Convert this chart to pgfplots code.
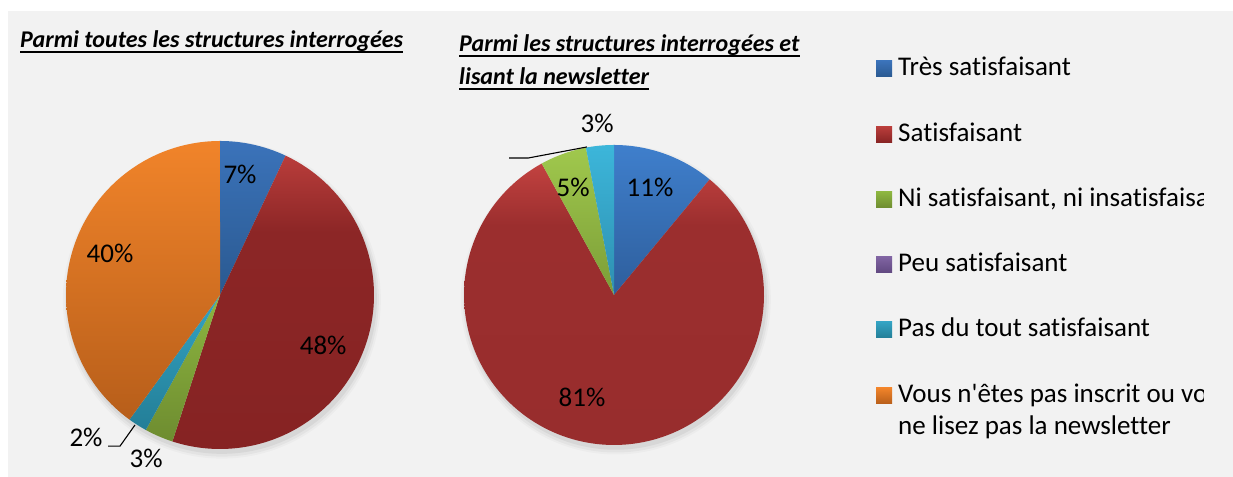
\documentclass[border=0pt]{standalone}
\usepackage{fontspec}
\setmainfont{Carlito}[Ligatures={NoCommon}]
\usepackage{pgfplots}
\pgfplotsset{compat=1.18}

% ---------------- data (percent) ----------------
% left pie: all structures
\def\LTS{7}\def\LS{48}\def\LNi{3}\def\LPeu{0}\def\LPas{2}\def\LVous{40}
% right pie: structures reading the newsletter
\def\RTS{11}\def\RS{81}\def\RNi{5}\def\RPeu{0}\def\RPas{3}

\pgfmathsetmacro\LcA{3.6*\LTS}
\pgfmathsetmacro\LcB{\LcA+3.6*\LS}
\pgfmathsetmacro\LcC{\LcB+3.6*\LNi}
\pgfmathsetmacro\LcD{\LcC+3.6*\LPeu}
\pgfmathsetmacro\LcE{\LcD+3.6*\LPas}
\pgfmathsetmacro\LcF{\LcE+3.6*\LVous}
\pgfmathsetmacro\RcA{3.6*\RTS}
\pgfmathsetmacro\RcB{\RcA+3.6*\RS}
\pgfmathsetmacro\RcC{\RcB+3.6*\RNi}
\pgfmathsetmacro\RcD{\RcC+3.6*\RPeu}
\pgfmathsetmacro\RcE{\RcD+3.6*\RPas}

% ---------------- colours ----------------
\definecolor{panel}{HTML}{F2F2F2}
\definecolor{lbt}{HTML}{3B73BA}\definecolor{lbb}{HTML}{2A5990}
\definecolor{lrt}{HTML}{B93D3B}\definecolor{lrm}{HTML}{8C2626}\definecolor{lrb}{HTML}{862323}
\definecolor{lgt}{HTML}{8DB640}\definecolor{lgb}{HTML}{6E8C30}
\definecolor{lct}{HTML}{34A3C3}\definecolor{lcb}{HTML}{237E97}
\definecolor{lot}{HTML}{F1842A}\definecolor{lob}{HTML}{B75E1A}
\definecolor{rbt}{HTML}{3F7FCC}\definecolor{rbb}{HTML}{2E5E9C}
\definecolor{rrt}{HTML}{C24240}\definecolor{rrm}{HTML}{9B2E2E}\definecolor{rrb}{HTML}{982D2D}
\definecolor{rgt}{HTML}{A0C84D}\definecolor{rgb}{HTML}{7B9D37}
\definecolor{rct}{HTML}{3CB6DA}\definecolor{rcb}{HTML}{2E8FB0}

\pgfdeclareverticalshading{sLb}{100bp}{color(0bp)=(lbb); color(25bp)=(lbb); color(75bp)=(lbt); color(100bp)=(lbt)}
\pgfdeclareverticalshading{sLr}{100bp}{color(0bp)=(lrb); color(25bp)=(lrb); color(62bp)=(lrm); color(75bp)=(lrt); color(100bp)=(lrt)}
\pgfdeclareverticalshading{sLg}{100bp}{color(0bp)=(lgb); color(25bp)=(lgb); color(75bp)=(lgt); color(100bp)=(lgt)}
\pgfdeclareverticalshading{sLc}{100bp}{color(0bp)=(lcb); color(25bp)=(lcb); color(75bp)=(lct); color(100bp)=(lct)}
\pgfdeclareverticalshading{sLo}{100bp}{color(0bp)=(lob); color(25bp)=(lob); color(75bp)=(lot); color(100bp)=(lot)}
\pgfdeclareverticalshading{sRb}{100bp}{color(0bp)=(rbb); color(25bp)=(rbb); color(75bp)=(rbt); color(100bp)=(rbt)}
\pgfdeclareverticalshading{sRr}{100bp}{color(0bp)=(rrb); color(25bp)=(rrb); color(64bp)=(rrm); color(75bp)=(rrt); color(100bp)=(rrt)}
\pgfdeclareverticalshading{sRg}{100bp}{color(0bp)=(rgb); color(25bp)=(rgb); color(75bp)=(rgt); color(100bp)=(rgt)}
\pgfdeclareverticalshading{sRc}{100bp}{color(0bp)=(rcb); color(25bp)=(rcb); color(75bp)=(rct); color(100bp)=(rct)}

\newcommand\lbl{\fontsize{27bp}{31bp}\selectfont}
\newcommand\ttl{\fontsize{24bp}{28bp}\selectfont\bfseries\itshape}

\begin{document}
\begin{tikzpicture}[x=1bp,y=1bp]
\fill[white] (0,0) rectangle (1233,477);
\fill[panel] (8,0) rectangle (1233,466);

% ---------- titles ----------
\node[anchor=base west,inner sep=0,font=\ttl] (t1) at (20,429) {Parmi toutes les structures interrogées};
\draw[line width=1.4bp] ([yshift=-4bp]t1.base west) -- ([yshift=-4bp]t1.base east);
\node[anchor=base west,inner sep=0,font=\ttl] (t2) at (459,425) {Parmi les structures interrogées et};
\draw[line width=1.4bp] ([yshift=-4bp]t2.base west) -- ([yshift=-4bp]t2.base east);
\node[anchor=base west,inner sep=0,font=\ttl] (t3) at (459,392) {lisant la newsletter};
\draw[line width=1.4bp] ([yshift=-4bp]t3.base west) -- ([yshift=-4bp]t3.base east);

% ---------- left pie ----------
\begin{axis}[at={(220bp,182bp)},anchor=origin,scale only axis,width=308bp,height=308bp,
  xmin=-1,xmax=1,ymin=-1,ymax=1,hide axis,clip=false]
  \fill[black,opacity=0.025] (axis cs:0.012,-0.03) circle[radius=159bp];
  \fill[black,opacity=0.035] (axis cs:0.012,-0.03) circle[radius=157bp];
  \fill[black,opacity=0.05] (axis cs:0.012,-0.025) circle[radius=155bp];
  \addplot[draw=none,shading=sLb,domain=0:\LcA,samples=40] ({sin(x)},{cos(x)}) -- (axis cs:0,0) -- cycle;
  \addplot[draw=none,shading=sLr,domain=\LcA:\LcB,samples=120] ({sin(x)},{cos(x)}) -- (axis cs:0,0) -- cycle;
  \addplot[draw=none,shading=sLg,domain=\LcB:\LcC,samples=20] ({sin(x)},{cos(x)}) -- (axis cs:0,0) -- cycle;
  \addplot[draw=none,shading=sLc,domain=\LcD:\LcE,samples=20] ({sin(x)},{cos(x)}) -- (axis cs:0,0) -- cycle;
  \addplot[draw=none,shading=sLo,domain=\LcE:\LcF,samples=100] ({sin(x)},{cos(x)}) -- (axis cs:0,0) -- cycle;
  \node[font=\lbl] at (axis cs:0.13,0.78) {\LTS\%};
  \node[font=\lbl] at (axis cs:0.67,-0.325) {\LS\%};
  \node[font=\lbl] at (axis cs:-0.714,0.273) {\LVous\%};
  \node[font=\lbl] at (axis cs:-0.87,-0.922) {\LPas\%};
  \node[font=\lbl] at (axis cs:-0.48,-1.06) {\LNi\%};
  \draw[line width=1.1bp] (axis cs:-0.727,-0.981) -- (axis cs:-0.649,-0.981) -- (axis cs:-0.552,-0.844);
\end{axis}

% ---------- right pie ----------
\begin{axis}[at={(614bp,182bp)},anchor=origin,scale only axis,width=300bp,height=300bp,
  xmin=-1,xmax=1,ymin=-1,ymax=1,hide axis,clip=false]
  \fill[black,opacity=0.025] (axis cs:0.012,-0.03) circle[radius=155bp];
  \fill[black,opacity=0.035] (axis cs:0.012,-0.03) circle[radius=153bp];
  \fill[black,opacity=0.05] (axis cs:0.012,-0.025) circle[radius=151bp];
  \addplot[draw=none,shading=sRb,domain=0:\RcA,samples=40] ({sin(x)},{cos(x)}) -- (axis cs:0,0) -- cycle;
  \addplot[draw=none,shading=sRr,domain=\RcA:\RcB,samples=150] ({sin(x)},{cos(x)}) -- (axis cs:0,0) -- cycle;
  \addplot[draw=none,shading=sRg,domain=\RcB:\RcC,samples=20] ({sin(x)},{cos(x)}) -- (axis cs:0,0) -- cycle;
  \addplot[draw=none,shading=sRc,domain=\RcD:\RcE,samples=20] ({sin(x)},{cos(x)}) -- (axis cs:0,0) -- cycle;
  \node[font=\lbl] at (axis cs:0.24,0.72) {\RTS\%};
  \node[font=\lbl] at (axis cs:-0.273,0.72) {\RNi\%};
  \node[font=\lbl] at (axis cs:-0.213,-0.68) {\RS\%};
  \node[font=\lbl] at (axis cs:-0.113,1.147) {\RPas\%};
  \draw[line width=1.1bp] (axis cs:-0.70,0.913) -- (axis cs:-0.573,0.913) -- (axis cs:-0.18,0.987);
\end{axis}

% ---------- legend ----------
\begin{scope}
\clip (860,0) rectangle (1203,477);
\shade[top color=lbt,bottom color=lbb] (876,400) rectangle (892,416);
\node[anchor=base west,inner sep=0,font=\lbl] at (898,401) {Très satisfaisant};
\shade[top color=lrt,bottom color=lrb] (876,334) rectangle (892,350);
\node[anchor=base west,inner sep=0,font=\lbl] at (898,335) {Satisfaisant};
\shade[top color=lgt,bottom color=lgb] (876,269) rectangle (892,285);
\node[anchor=base west,inner sep=0,font=\lbl] at (898,270) {Ni satisfaisant, ni insatisfaisant};
\shade[top color={rgb,255:red,128;green,100;blue,162},bottom color={rgb,255:red,96;green,72;blue,128}] (876,204) rectangle (892,220);
\node[anchor=base west,inner sep=0,font=\lbl] at (898,205) {Peu satisfaisant};
\shade[top color=lct,bottom color=lcb] (876,139) rectangle (892,155);
\node[anchor=base west,inner sep=0,font=\lbl] at (898,140) {Pas du tout satisfaisant};
\shade[top color=lot,bottom color=lob] (876,73) rectangle (892,89);
\node[anchor=base west,inner sep=0,font=\lbl] at (898,74) {Vous n\textquotesingle êtes pas inscrit ou vous};
\node[anchor=base west,inner sep=0,font=\lbl] at (898,42) {ne lisez pas la newsletter};
\end{scope}
\pgfresetboundingbox
\useasboundingbox (0,0) rectangle (1233,477);
\end{tikzpicture}
\end{document}
